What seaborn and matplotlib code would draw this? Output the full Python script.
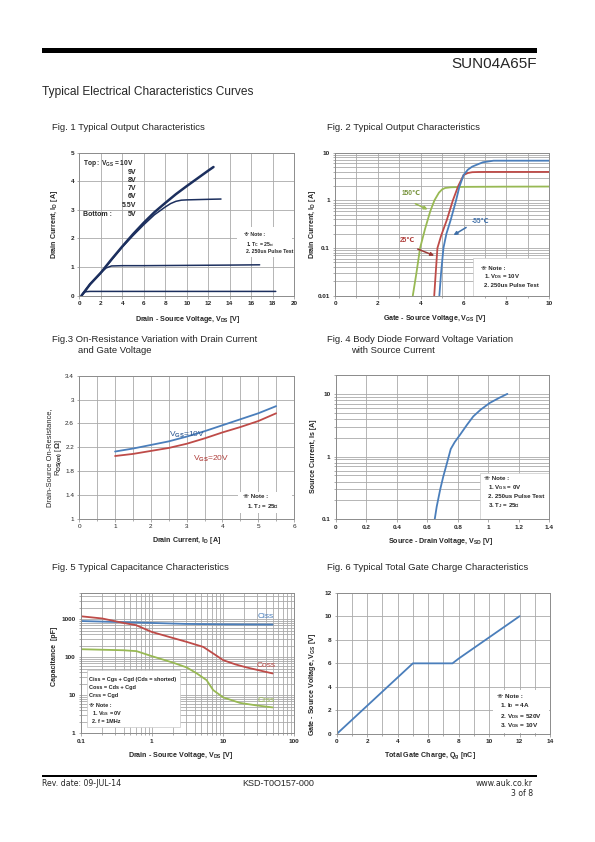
import numpy as np
import pandas as pd
import seaborn as sns
import matplotlib.pyplot as plt
from matplotlib.patches import Rectangle
from matplotlib.ticker import LogLocator, NullFormatter, MultipleLocator

# ---- Fig. 1 output characteristics (Vds [V], Id [A]) ----
vds_top = [0.2, 1, 2, 3, 4, 5, 6, 7, 8, 9, 10, 11, 12, 12.5]
id_top = [0, 0.4, 0.8, 1.27, 1.72, 2.15, 2.55, 2.92, 3.24, 3.55, 3.83, 4.1, 4.37, 4.5]
vds_55 = [0.2, 1, 2, 3, 4, 5, 6, 7, 8, 8.5, 9, 9.5, 10, 11, 12, 13.2]
id_55 = [0, 0.4, 0.8, 1.25, 1.7, 2.1, 2.48, 2.83, 3.1, 3.22, 3.3, 3.34, 3.35, 3.36, 3.37, 3.38]
vds_5 = [0.2, 1, 2, 2.5, 3, 4, 6, 10, 14, 16.8]
id_5 = [0, 0.4, 0.8, 0.97, 1.04, 1.05, 1.05, 1.06, 1.07, 1.08]
vds_low = [0.2, 0.4, 0.6, 1, 5, 10, 15, 18.3]
id_low = [0, 0.1, 0.14, 0.15, 0.15, 0.15, 0.15, 0.15]
legend_vgs = ['9V', '8V', '7V', '6V', '5.5V']

# ---- Fig. 2 transfer characteristics (Vgs [V], Id [A]) ----
vgs_m55 = [4.87, 4.95, 5.06, 5.2, 5.4, 5.65, 5.8, 6.0, 6.2, 6.4, 6.62, 6.9, 7.4, 8, 9, 10]
id_m55 = [0.01, 0.03, 0.1, 0.2, 0.39, 1.0, 1.9, 3.4, 4.4, 5.1, 5.6, 6.3, 6.8, 6.8, 6.8, 6.8]
vgs_25 = [4.63, 4.7, 4.78, 4.95, 5.22, 5.5, 5.75, 6.0, 6.2, 6.4, 6.7, 7, 8, 10]
id_25 = [0.01, 0.03, 0.1, 0.18, 0.39, 1.0, 2.0, 3.4, 3.75, 3.9, 3.94, 3.95, 3.95, 3.95]
vgs_150 = [3.63, 3.8, 3.97, 4.2, 4.45, 4.64, 4.85, 5.0, 5.14, 5.4, 6, 8, 10]
id_150 = [0.01, 0.03, 0.1, 0.25, 0.6, 1.0, 1.45, 1.7, 1.82, 1.88, 1.92, 1.94, 1.95]

# ---- Fig. 3 on-resistance (Id [A], Rds(on) [ohm]) ----
id_r = [1, 1.5, 2, 2.5, 3, 3.5, 4, 4.5, 5, 5.5]
rds_10v = [2.13, 2.18, 2.24, 2.3, 2.38, 2.47, 2.57, 2.67, 2.77, 2.89]
rds_20v = [2.055, 2.09, 2.14, 2.19, 2.26, 2.35, 2.45, 2.54, 2.64, 2.77]

# ---- Fig. 4 body diode (Vsd [V], Is [A]) ----
vsd = [0.649, 0.662, 0.685, 0.705, 0.73, 0.754, 0.78, 0.815, 0.86, 0.902, 0.95, 1.01, 1.07, 1.125]
isd = [0.1, 0.159, 0.3, 0.48, 0.8, 1.32, 1.7, 2.23, 3.2, 4.38, 5.6, 7.18, 8.6, 10.0]

# ---- Fig. 5 capacitance (Vds [V], C [pF]) ----
vds_ciss = [0.1, 0.3, 1, 3, 10, 50]
ciss = [900, 850, 800, 755, 735, 725]
vds_coss = [0.1, 0.2, 0.4, 0.6, 1, 2, 3.1, 5.3, 7.3, 10.1, 15, 21.6, 50]
coss = [1200, 1050, 800, 700, 464, 320, 254, 187, 126, 84, 65, 54, 37.6]
vds_crss = [0.1, 0.4, 0.61, 1, 2, 3.1, 4.3, 5.9, 7.3, 10.1, 17.4, 30, 50]
crss = [163, 153, 145, 107, 72, 54, 37.6, 25, 13.7, 8.8, 6.3, 5.4, 4.8]

# ---- Fig. 6 gate charge (Qg [nC], Vgs [V]) ----
qg = [0, 5, 7.6, 8, 12]
vgs_q = [0, 6, 6, 6.4, 10]

NAVY = '#1c2f5e'
BLUE = '#4a7ebb'
RED = '#be4b48'
GREEN = '#98b954'
GRID = '#a9a9a9'

sns.set_theme(context='paper', style='white')
plt.rcParams['font.family'] = ['Liberation Sans', 'DejaVu Sans']
plt.rcParams['font.weight'] = 'bold'
plt.rcParams['mathtext.fontset'] = 'custom'
plt.rcParams['mathtext.rm'] = 'Liberation Sans'
plt.rcParams['mathtext.it'] = 'Liberation Sans:italic'
plt.rcParams['mathtext.bf'] = 'Liberation Sans:bold'

W, H = 595, 842
fig = plt.figure(figsize=(W / 100, H / 100), dpi=100)


def fx(px):
    return px / W


def fy(py):
    return 1 - py / H


def axes_px(x0, y0, x1, y1):
    return fig.add_axes([fx(x0), fy(y1), (x1 - x0) / W, (y1 - y0) / H])


def style(ax, xlabel, ylabel, ylx, yly, xlx, xly, tickw='bold'):
    ax.set_axisbelow(True)
    for s in ax.spines.values():
        s.set_color('#8c8c8c')
        s.set_linewidth(0.7)
    ax.tick_params(which='both', direction='out', length=1.8, width=0.5, color='#8c8c8c',
                   labelsize=4.6, pad=2, bottom=True, left=True)
    ax.tick_params(which='minor', length=1.2)
    for lab in ax.get_xticklabels() + ax.get_yticklabels():
        lab.set_fontweight(tickw)
    ax.set_xlabel(xlabel, fontsize=5.1, fontweight='bold')
    ax.set_ylabel(ylabel, fontsize=5.1, fontweight='bold')
    ax.xaxis.set_label_coords(xlx, xly)
    ax.yaxis.set_label_coords(ylx, yly)


box_ec = {}


def note(ax, box, lines, size=4.0):
    x0, y0, x1, y1 = box
    ax.add_patch(Rectangle((x0, y0), x1 - x0, y1 - y0, transform=ax.transAxes,
                           fc='white', ec=box_ec.get(id(ax), 'none'), lw=0.5, zorder=2.5))
    for (tx, ty, t) in lines:
        ax.text(tx, ty, t, transform=ax.transAxes, fontsize=size, va='center', ha='left',
                zorder=3)


# ---------------- Fig 1 ----------------
ax1 = axes_px(79.3, 152.7, 294, 295.7)
for xs, ys, lw in [(vds_top, id_top, 1.8), (vds_55, id_55, 1.1), (vds_5, id_5, 1.1), (vds_low, id_low, 1.1)]:
    sns.lineplot(x=xs, y=ys, ax=ax1, color=NAVY, lw=lw, sort=False, estimator=None)
ax1.set_xlim(0, 20)
ax1.set_ylim(0, 5)
ax1.set_xticks(np.arange(0, 21, 2))
ax1.set_yticks(np.arange(0, 6, 1))
ax1.grid(True, color=GRID, lw=0.6)
style(ax1, 'Drain - Source Voltage, V$_{\\mathbf{DS}}$ [V]', 'Drain Current, I$_{\\mathbf{D}}$ [A]',
      ylx=-0.09, yly=0.5, xlx=0.506, xly=-0.125)
ax1.text(0.019, 0.926, 'Top : V$_{\\mathbf{GS}}$ = 10V', transform=ax1.transAxes, fontsize=4.8, va='center')
for t, yy in zip(legend_vgs, [0.865, 0.804, 0.748, 0.692, 0.632]):
    ax1.text(0.267, yy, t, transform=ax1.transAxes, fontsize=5, va='center', ha='right')
ax1.text(0.019, 0.566, 'Bottom :', transform=ax1.transAxes, fontsize=5, va='center')
ax1.text(0.267, 0.566, '5V', transform=ax1.transAxes, fontsize=5, va='center', ha='right')
note(ax1, (0.733, 0.269, 0.989, 0.478),
     [(0.767, 0.429, '※ Note :'), (0.777, 0.359, '1. T$_{\\mathbf{C}}$ = 25℃'),
      (0.777, 0.306, '2. 250us Pulse Test')], size=3.7)

# ---------------- Fig 2 ----------------
ax2 = axes_px(335, 152.7, 549.3, 295.7)
box_ec[id(ax2)] = '#c8c8c8'
for xs, ys, c in [(vgs_150, id_150, GREEN), (vgs_25, id_25, RED), (vgs_m55, id_m55, BLUE)]:
    sns.lineplot(x=xs, y=ys, ax=ax2, color=c, lw=1.3, sort=False, estimator=None)
ax2.set_yscale('log')
ax2.set_xlim(0, 10)
ax2.set_ylim(0.01, 10)
ax2.set_xticks(np.arange(0, 11, 2))
ax2.xaxis.set_minor_locator(MultipleLocator(1))
ax2.set_yticks([0.01, 0.1, 1, 10])
ax2.set_yticklabels(['0.01', '0.1', '1', '10'])
ax2.yaxis.set_minor_locator(LogLocator(base=10, subs=np.arange(2, 10)))
ax2.yaxis.set_minor_formatter(NullFormatter())
ax2.grid(True, which='both', color=GRID, lw=0.6)
style(ax2, 'Gate - Source Voltage, V$_{\\mathbf{GS}}$ [V]', 'Drain Current, I$_{\\mathbf{D}}$ [A]',
      ylx=-0.08, yly=0.5, xlx=0.467, xly=-0.12)
arrow_specs = [('150℃', (3.1, 1.41), (3.63, 0.9), (4.44, 0.61), '#77933c', GREEN),
               ('25℃', (3.04, 0.143), (3.74, 0.1), (4.75, 0.066), '#b0403d', '#9c3a37'),
               ('-55℃', (6.39, 0.358), (6.23, 0.29), (5.42, 0.174), '#3f6fa8', '#3f6fa8')]
for lab, tpos, tail, head, tc, ac in arrow_specs:
    ax2.text(tpos[0], tpos[1], lab, color=tc, fontsize=4.8, va='center', ha='left')
    ax2.annotate('', xy=head, xytext=tail,
                 arrowprops=dict(arrowstyle='-|>', color=ac, lw=1.1, mutation_scale=5))
note(ax2, (0.645, 0.0, 1.0, 0.262),
     [(0.68, 0.192, '※ Note :'), (0.695, 0.133, '1. V$_{\\mathbf{DS}}$ = 10V'),
      (0.695, 0.070, '2. 250us Pulse Test')], size=4.3)

# ---------------- Fig 3 ----------------
ax3 = axes_px(79.3, 375.7, 294, 519)
sns.lineplot(x=id_r, y=rds_10v, ax=ax3, color=BLUE, lw=1.3, sort=False, estimator=None)
sns.lineplot(x=id_r, y=rds_20v, ax=ax3, color=RED, lw=1.3, sort=False, estimator=None)
ax3.set_xlim(0, 6)
ax3.set_ylim(1, 3.4)
ax3.set_xticks(np.arange(0, 7, 1))
ax3.xaxis.set_minor_locator(MultipleLocator(0.5))
ax3.set_yticks([1, 1.4, 1.8, 2.2, 2.6, 3, 3.4])
ax3.set_yticklabels(['1', '1.4', '1.8', '2.2', '2.6', '3', '3.4'])
ax3.grid(True, which='major', color=GRID, lw=0.6)
ax3.grid(True, which='minor', axis='x', color=GRID, lw=0.6)
style(ax3, 'Drain Current, I$_{\\mathbf{D}}$ [A]',
      'Drain-Source On-Resistance,\nR$_{\\mathrm{DS(on)}}$ [$\\Omega$]',
      ylx=-0.072, yly=0.43, xlx=0.5, xly=-0.115, tickw='normal')
ax3.yaxis.label.set_fontweight('normal')
ax3.yaxis.label.set_fontsize(5.4)
ax3.yaxis.label.set_linespacing(1.05)
ax3.text(2.51, 2.41, 'V$_{\\mathrm{GS}}$=10V', color='#2f5a92', fontsize=6, fontweight='normal', va='center')
ax3.text(3.18, 2.0, 'V$_{\\mathrm{GS}}$=20V', color='#b0403d', fontsize=6, fontweight='normal', va='center')
note(ax3, (0.741, 0.04, 0.989, 0.19),
     [(0.764, 0.156, '※ Note :'), (0.78, 0.086, '1. T$_{\\mathbf{J}}$ = 25℃')], size=4.4)

# ---------------- Fig 4 ----------------
ax4 = axes_px(335.7, 375, 549.3, 519.3)
box_ec[id(ax4)] = '#c8c8c8'
sns.lineplot(x=vsd, y=isd, ax=ax4, color=BLUE, lw=1.3, sort=False, estimator=None)
ax4.set_yscale('log')
ax4.set_xlim(0, 1.4)
ax4.set_ylim(0.1, 20)
ax4.set_xticks(np.arange(0, 1.41, 0.2))
ax4.set_xticklabels(['0', '0.2', '0.4', '0.6', '0.8', '1', '1.2', '1.4'])
ax4.set_yticks([0.1, 1, 10])
ax4.set_yticklabels(['0.1', '1', '10'])
ax4.yaxis.set_minor_locator(LogLocator(base=10, subs=np.arange(2, 10)))
ax4.yaxis.set_minor_formatter(NullFormatter())
ax4.grid(True, which='major', color=GRID, lw=0.6)
ax4.grid(True, which='minor', axis='y', color=GRID, lw=0.6)
style(ax4, 'Source - Drain Voltage, V$_{\\mathbf{SD}}$ [V]', 'Source Current, Is [A]',
      ylx=-0.088, yly=0.44, xlx=0.493, xly=-0.119)
note(ax4, (0.676, 0.0, 1.0, 0.319),
     [(0.696, 0.284, '※ Note :'), (0.712, 0.222, '1. V$_{\\mathbf{GS}}$ = 0V'),
      (0.712, 0.157, '2. 250us Pulse Test'), (0.712, 0.094, '3. T$_{\\mathbf{J}}$ = 25℃')], size=4.4)

# ---------------- Fig 5 ----------------
ax5 = axes_px(80.7, 592.7, 294, 733.3)
box_ec[id(ax5)] = '#c8c8c8'
for xs, ys, c in [(vds_ciss, ciss, BLUE), (vds_coss, coss, RED), (vds_crss, crss, GREEN)]:
    sns.lineplot(x=xs, y=ys, ax=ax5, color=c, lw=1.3, sort=False, estimator=None)
ax5.set_xscale('log')
ax5.set_yscale('log')
ax5.set_xlim(0.1, 100)
ax5.set_ylim(1, 5000)
ax5.set_xticks([0.1, 1, 10, 100])
ax5.set_xticklabels(['0.1', '1', '10', '100'])
ax5.set_yticks([1, 10, 100, 1000])
ax5.set_yticklabels(['1', '10', '100', '1000'])
for axis in (ax5.xaxis, ax5.yaxis):
    axis.set_minor_locator(LogLocator(base=10, subs=np.arange(2, 10)))
    axis.set_minor_formatter(NullFormatter())
ax5.grid(True, which='both', color=GRID, lw=0.6)
style(ax5, 'Drain - Source Voltage, V$_{\\mathbf{DS}}$ [V]', 'Capacitance  [pF]',
      ylx=-0.108, yly=0.55, xlx=0.47, xly=-0.122)
for lab, yy, c in [('Ciss', 1150, BLUE), ('Coss', 62, RED), ('Crss', 7.2, GREEN)]:
    ax5.text(40, yy, lab, color=c, fontsize=6, fontweight='normal', ha='center', va='center')
note(ax5, (0.028, 0.047, 0.466, 0.45),
     [(0.04, 0.386, 'Ciss = Cgs + Cgd (Cds = shorted)'), (0.04, 0.329, 'Coss = Cds + Cgd'),
      (0.04, 0.272, 'Crss = Cgd'), (0.04, 0.196, '※ Note :'),
      (0.052, 0.142, '1. V$_{\\mathbf{GS}}$ = 0V'), (0.052, 0.083, '2. f = 1MHz')], size=4.0)

# ---------------- Fig 6 ----------------
ax6 = axes_px(336.7, 592.7, 550, 734)
sns.lineplot(x=qg, y=vgs_q, ax=ax6, color=BLUE, lw=1.3, sort=False, estimator=None)
ax6.set_xlim(0, 14)
ax6.set_ylim(0, 12)
ax6.set_xticks(np.arange(0, 15, 2))
ax6.xaxis.set_minor_locator(MultipleLocator(1))
ax6.set_yticks(np.arange(0, 13, 2))
ax6.grid(True, which='major', color=GRID, lw=0.6)
ax6.grid(True, which='minor', axis='x', color=GRID, lw=0.6)
style(ax6, 'Total Gate Charge, Q$_{\\mathbf{g}}$ [nC]', 'Gate - Source Voltage, V$_{\\mathbf{GS}}$ [V]',
      ylx=-0.09, yly=0.35, xlx=0.437, xly=-0.117)
note(ax6, (0.734, 0.007, 0.995, 0.311),
     [(0.75, 0.264, '※ Note :'), (0.766, 0.198, '1. I$_{\\mathbf{D}}$ = 4A'),
      (0.766, 0.127, '2. V$_{\\mathbf{DS}}$ = 520V'), (0.766, 0.061, '3. V$_{\\mathbf{GS}}$ = 10V')], size=4.6)

# ---------------- page text ----------------
fig.add_artist(Rectangle((fx(41.7), fy(52.7)), (537 - 41.7) / W, 4.4 / H, transform=fig.transFigure,
                         fc='black', ec='none'))
fig.add_artist(Rectangle((fx(41.7), fy(776.7)), (537 - 41.7) / W, 2 / H, transform=fig.transFigure,
                         fc='black', ec='none'))
fig.text(fx(537), fy(64), 'SUN04A65F', fontsize=11, fontweight='normal', ha='right', va='center')
fig.text(fx(42), fy(92), 'Typical Electrical Characteristics Curves', fontsize=8.6,
         fontweight='normal', ha='left', va='center')

titles = [(52, 127, 'Fig. 1 Typical Output Characteristics'),
          (327, 128, 'Fig. 2 Typical Output Characteristics'),
          (52, 340, 'Fig.3 On-Resistance Variation with Drain Current'),
          (78, 351, 'and Gate Voltage'),
          (327, 339, 'Fig. 4 Body Diode Forward Voltage Variation'),
          (351, 351, 'with Source Current'),
          (52, 567, 'Fig. 5 Typical Capacitance Characteristics'),
          (327, 567, 'Fig. 6 Typical Total Gate Charge Characteristics')]
for x, y, t in titles:
    fig.text(fx(x), fy(y), t, fontsize=6.8, fontweight='normal', ha='left', va='center')

fig.text(fx(42), fy(784), 'Rev. date: 09-JUL-14', fontsize=5.6, fontweight='normal',
         family=['DejaVu Sans'], ha='left', va='center')
fig.text(fx(278), fy(784), 'KSD-T0O157-000', fontsize=6.5, fontweight='normal', ha='center', va='center')
fig.text(fx(533), fy(784), 'www.auk.co.kr', fontsize=5.6, fontweight='normal',
         family=['DejaVu Sans'], ha='right', va='center')
fig.text(fx(533), fy(794), '3 of 8', fontsize=5.6, fontweight='normal',
         family=['DejaVu Sans'], ha='right', va='center')

fig.savefig('out.png', dpi=100)
